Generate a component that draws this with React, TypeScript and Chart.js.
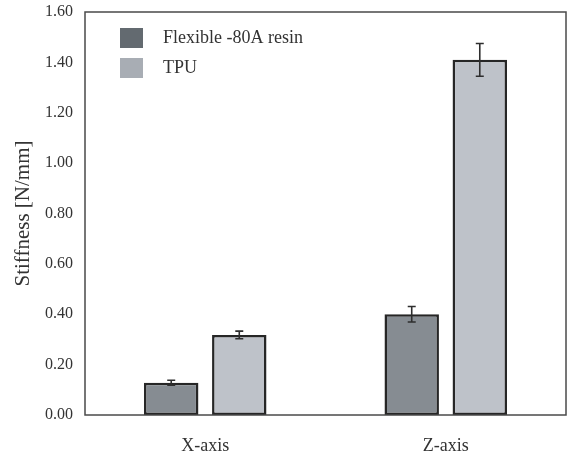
import React, { useEffect, useRef } from "react";
import { Chart, registerables } from "chart.js";

Chart.register(...registerables);

const categories = ["X-axis", "Z-axis"];
const seriesNames = ["Flexible -80A resin", "TPU"];
const flexibleValues = [0.128, 0.4];
const tpuValues = [0.318, 1.41];
const flexibleErrors = [0.01, 0.031];
const tpuErrors = [0.015, 0.065];
const barColors = ["#868c92", "#bec2c9"];
const legendColors = ["#636a70", "#a8adb4"];
const yMin = 0;
const yMax = 1.6;
const yStep = 0.2;

const FONT = "'Liberation Serif', 'Times New Roman', serif";
const TEXT = "#333333";

const errorBarPlugin = {
  id: "errorBars",
  afterDatasetsDraw(chart: any) {
    const ctx = chart.ctx;
    const yScale = chart.scales.y;
    ctx.save();
    ctx.strokeStyle = "#2e2e2e";
    ctx.lineWidth = 1.6;
    chart.data.datasets.forEach((ds: any, di: number) => {
      const meta = chart.getDatasetMeta(di);
      meta.data.forEach((bar: any, i: number) => {
        const v = ds.data[i];
        const e = ds.errors[i];
        const x = bar.x;
        const yt = yScale.getPixelForValue(v + e);
        const yb = yScale.getPixelForValue(v - e);
        const cap = 4;
        ctx.beginPath();
        ctx.moveTo(x, yt);
        ctx.lineTo(x, yb);
        ctx.moveTo(x - cap, yt);
        ctx.lineTo(x + cap, yt);
        ctx.moveTo(x - cap, yb);
        ctx.lineTo(x + cap, yb);
        ctx.stroke();
      });
    });
    ctx.restore();
  },
};

const frameLegendPlugin = {
  id: "frameLegend",
  afterDraw(chart: any) {
    const { ctx, chartArea } = chart;
    ctx.save();
    ctx.strokeStyle = "#4a4a4a";
    ctx.lineWidth = 1.5;
    ctx.strokeRect(
      chartArea.left,
      chartArea.top,
      chartArea.right - chartArea.left,
      chartArea.bottom - chartArea.top
    );
    const boxX = chartArea.left + 35;
    const boxY = chartArea.top + 16;
    const rowH = 30;
    ctx.font = `18px ${FONT}`;
    ctx.textBaseline = "middle";
    chart.data.datasets.forEach((ds: any, i: number) => {
      const y = boxY + i * rowH;
      ctx.fillStyle = legendColors[i];
      ctx.fillRect(boxX, y, 23, 20);
      ctx.fillStyle = TEXT;
      ctx.fillText(ds.label, boxX + 43, y + 10);
    });
    ctx.restore();
  },
};

export default function App() {
  const ref = useRef<HTMLCanvasElement | null>(null);
  useEffect(() => {
    document.body.style.margin = "0";
    const canvas = ref.current;
    if (!canvas) return;
    const chart = new Chart(canvas, {
      type: "bar",
      data: {
        labels: categories,
        datasets: [
          {
            label: seriesNames[0],
            data: flexibleValues,
            errors: flexibleErrors,
            backgroundColor: barColors[0],
            borderColor: "#262626",
            borderWidth: 2.5,
            borderSkipped: false,
            categoryPercentage: 0.566,
            barPercentage: 0.8,
          } as any,
          {
            label: seriesNames[1],
            data: tpuValues,
            errors: tpuErrors,
            backgroundColor: barColors[1],
            borderColor: "#262626",
            borderWidth: 2.5,
            borderSkipped: false,
            categoryPercentage: 0.566,
            barPercentage: 0.8,
          } as any,
        ],
      },
      options: {
        animation: false,
        responsive: false,
        maintainAspectRatio: false,
        layout: { padding: { left: 0, top: 12, right: 3, bottom: 0 } },
        plugins: {
          legend: { display: false },
          tooltip: { enabled: false },
        },
        scales: {
          x: {
            grid: { display: false, drawTicks: false },
            border: { display: false },
            ticks: {
              color: TEXT,
              font: { family: FONT, size: 18 },
              padding: 20,
            },
            afterFit: (scale: any) => {
              scale.height = 42;
              scale.paddingLeft = 0;
              scale.paddingRight = 0;
            },
          },
          y: {
            min: yMin,
            max: yMax,
            grid: { display: false, drawTicks: false },
            border: { display: false },
            ticks: {
              stepSize: yStep,
              color: TEXT,
              font: { family: FONT, size: 16 },
              padding: 12,
              callback: (v: any) => Number(v).toFixed(2),
            },
            title: {
              display: true,
              text: "Stiffness [N/mm]",
              color: TEXT,
              font: { family: FONT, size: 21 },
              padding: { top: 11, bottom: 0 },
            },
            afterFit: (scale: any) => {
              scale.width = 85;
              scale.paddingTop = 0;
              scale.paddingBottom = 0;
            },
          },
        },
      },
      plugins: [errorBarPlugin, frameLegendPlugin],
    });
    return () => chart.destroy();
  }, []);
  return (
    <div style={{ width: 569, height: 457, background: "#ffffff" }}>
      <canvas ref={ref} width={569} height={457} />
    </div>
  );
}
